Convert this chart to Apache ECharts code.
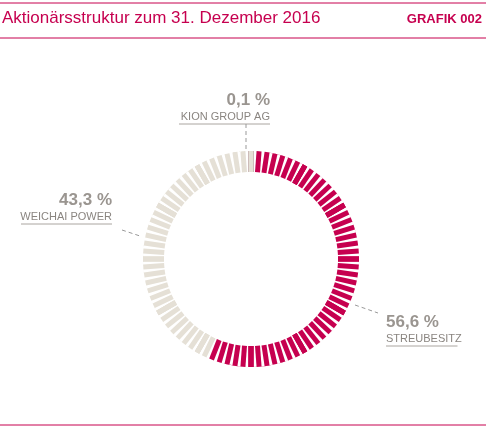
<!DOCTYPE html>
<html><head><meta charset="utf-8">
<script src="https://cdn.jsdelivr.net/npm/echarts@6/dist/echarts.min.js"></script>
<style>html,body{margin:0;padding:0;background:#fff}#c{width:486px;height:435px}</style>
</head><body><div id="c"></div>
<script>
var names = ['STREUBESITZ', 'WEICHAI POWER', 'KION GROUP AG'];
var values = [56.6, 43.3, 0.1];
var valueLabels = ['56,6 %', '43,3 %', '0,1 %'];
var colors = ['#c6004f', '#e5e0d6', '#5a1030'];

var s = values[0] / 100;
var chart = echarts.init(document.getElementById('c'));
var labelPos = [[386, 322], [14, 200], [172, 100]];
var leaders = [[[355, 305], [378, 313]], [[122, 230], [140, 236]], [[246, 124], [246, 150]]];
var graphics = [
  {type:'line', shape:{x1:0,y1:3,x2:486,y2:3}, style:{stroke:'#c6004f', lineWidth:1}},
  {type:'line', shape:{x1:0,y1:38,x2:486,y2:38}, style:{stroke:'#c6004f', lineWidth:1}},
  {type:'line', shape:{x1:0,y1:425,x2:486,y2:425}, style:{stroke:'#c6004f', lineWidth:1}},
  {type:'text', left:2, top:10, style:{text:'Aktionärsstruktur zum 31. Dezember 2016', fill:'#c6004f', font:'17px "Liberation Sans", Arial'}},
  {type:'text', right:4, top:13, style:{text:'GRAFIK 002', fill:'#c6004f', font:'bold 13px "Liberation Sans", Arial'}}
];
names.forEach(function(n, i){
  var p = labelPos[i];
  var right = i !== 0;
  graphics.push({type:'text', x: right ? p[0] + 98 : p[0], y: p[1], style:{text:valueLabels[i], fill:'#9a9590', font:'bold 17px "Liberation Sans", Arial', align: right ? 'right':'left', verticalAlign:'middle'}});
  graphics.push({type:'text', x: right ? p[0] + 98 : p[0], y: p[1] + 17, style:{text:n, fill:'#8a8580', font:'11px "Liberation Sans", Arial', align: right ? 'right':'left', verticalAlign:'middle'}});
  graphics.push({type:'line', shape:{x1: right ? p[0] + 98 - n.length*7 : p[0], y1:p[1]+24, x2: right ? p[0]+98 : p[0] + n.length*6.5, y2:p[1]+24}, style:{stroke:'#aaa5a0', lineWidth:1}});
  var l = leaders[i];
  graphics.push({type:'line', shape:{x1:l[0][0],y1:l[0][1],x2:l[1][0],y2:l[1][1]}, style:{stroke:'#999', lineWidth:1, lineDash:[4,3]}});
});
chart.setOption({
  animation:false,
  graphic: graphics,
  series:[{
    type:'gauge', center:[251,259], radius:108, startAngle:90, endAngle:-270, min:0, max:100,
    splitNumber:12,
    axisLine:{show:true, lineStyle:{width:0, color:[[0.004, colors[2]], [s, colors[0]], [1, colors[1]]]}},
    axisTick:{show:true, splitNumber:7, distance:0, length:21, lineStyle:{color:'auto', width:5}},
    splitLine:{show:true, distance:0, length:21, lineStyle:{color:'auto', width:5}},
    axisLabel:{show:false}, pointer:{show:false}, anchor:{show:false}, title:{show:false}, detail:{show:false},
    data:[{value:0}]
  }]
});
</script></body></html>
